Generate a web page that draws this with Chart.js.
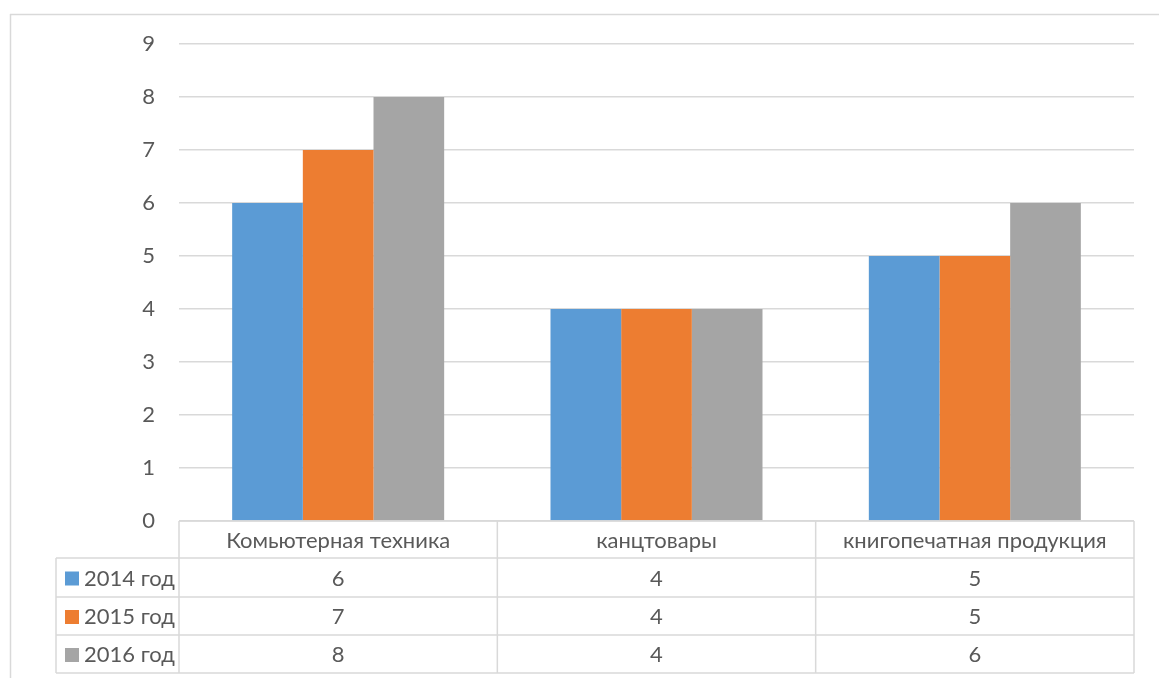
<!DOCTYPE html>
<html>
<head>
<meta charset="utf-8">
<script src="https://cdn.jsdelivr.net/npm/chart.js@4"></script>
<style>
  body { margin: 0; background: #fff; }
  canvas { display: block; }
</style>
</head>
<body>
<canvas id="chartCanvas" width="1159" height="678"></canvas>
<script>
// categories and yearly values
var categories = ['Комьютерная техника', 'канцтовары', 'книгопечатная продукция'];
var seriesNames = ['2014 год', '2015 год', '2016 год'];
var values2014 = [6, 4, 5];
var values2015 = [7, 4, 5];
var values2016 = [8, 4, 6];
var yMax = 9;

var colors = ['#5b9bd5', '#ed7d31', '#a5a5a5'];
var textColor = '#595959';
var lineColor = '#d9d9d9';
var fontFamily = 'Lato, "Open Sans", sans-serif';
var fontSize = 22;

var ctx = document.getElementById('chartCanvas');

// frame around the chart area (top and left edges)
var framePlugin = {
    id: 'frame',
    beforeDraw: function(chart) {
        var c = chart.ctx;
        c.save();
        c.strokeStyle = lineColor;
        c.lineWidth = 1.5;
        c.beginPath();
        c.moveTo(10, 14.5);
        c.lineTo(chart.width, 14.5);
        c.moveTo(10.5, 14);
        c.lineTo(10.5, chart.height);
        c.stroke();
        c.restore();
    }
};

// data table under the bars, with legend keys in the first column
var dataTablePlugin = {
    id: 'dataTable',
    afterDraw: function(chart) {
        var c = chart.ctx;
        var xs = chart.scales.x;
        var area = chart.chartArea;
        var catWidth = (area.right - area.left) / categories.length;
        var rows = [area.bottom, area.bottom + 37, area.bottom + 76, area.bottom + 114, area.bottom + 152];
        var legendLeft = 56;
        var series = [values2014, values2015, values2016];

        c.save();
        c.strokeStyle = lineColor;
        c.lineWidth = 1.5;
        c.beginPath();
        // header row top line
        c.moveTo(area.left, rows[0]);
        c.lineTo(area.right, rows[0]);
        for (var r = 1; r < rows.length; r++) {
            c.moveTo(legendLeft, rows[r]);
            c.lineTo(area.right, rows[r]);
        }
        // vertical lines
        c.moveTo(legendLeft, rows[1]);
        c.lineTo(legendLeft, rows[4]);
        for (var i = 0; i <= categories.length; i++) {
            var x = area.left + i * catWidth;
            c.moveTo(x, rows[0]);
            c.lineTo(x, rows[4]);
        }
        c.stroke();

        c.font = fontSize + 'px ' + fontFamily;
        c.fillStyle = textColor;
        c.textAlign = 'center';
        c.textBaseline = 'middle';
        categories.forEach(function(cat, i) {
            c.fillText(cat, xs.getPixelForValue(i), (rows[0] + rows[1]) / 2 + 1);
        });
        series.forEach(function(vals, s) {
            var cy = (rows[s + 1] + rows[s + 2]) / 2 + 1;
            vals.forEach(function(v, i) {
                c.fillStyle = textColor;
                c.textAlign = 'center';
                c.fillText(String(v), xs.getPixelForValue(i), cy);
            });
            c.fillStyle = colors[s];
            c.fillRect(65, cy - 7, 14, 14);
            c.fillStyle = textColor;
            c.textAlign = 'left';
            c.fillText(seriesNames[s], 84, cy);
        });
        c.restore();
    }
};

var myChart = new Chart(ctx, {
    type: 'bar',
    data: {
        labels: categories,
        datasets: [
            { label: seriesNames[0], data: values2014, backgroundColor: colors[0] },
            { label: seriesNames[1], data: values2015, backgroundColor: colors[1] },
            { label: seriesNames[2], data: values2016, backgroundColor: colors[2] }
        ]
    },
    options: {
        responsive: false,
        animation: false,
        categoryPercentage: 0.666,
        barPercentage: 1,
        layout: {
            padding: { top: 44, bottom: 157, left: 0, right: 25 }
        },
        scales: {
            x: {
                display: false
            },
            y: {
                min: 0,
                max: yMax,
                border: { display: false },
                grid: { color: lineColor, lineWidth: 1.5, drawTicks: false },
                ticks: {
                    stepSize: 1,
                    padding: 24,
                    color: textColor,
                    font: { family: fontFamily, size: fontSize }
                },
                afterFit: function(scale) { scale.width = 179; }
            }
        },
        plugins: {
            legend: { display: false },
            tooltip: { enabled: false }
        }
    },
    plugins: [framePlugin, dataTablePlugin]
});
</script>
</body>
</html>
